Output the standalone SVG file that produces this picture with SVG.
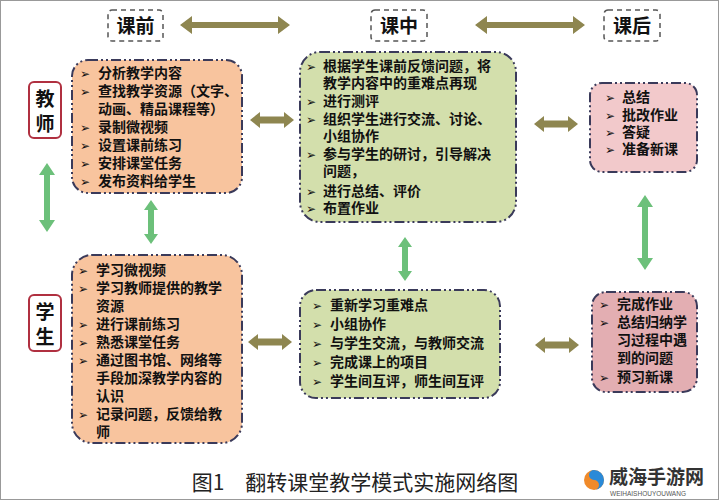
<svg xmlns="http://www.w3.org/2000/svg" width="719" height="500" viewBox="0 0 719 500">
<style>
.t{font-family:"Noto Sans CJK SC","Liberation Sans",sans-serif;font-weight:bold;font-size:14px;fill:#111}
.b{font-family:"DejaVu Sans",sans-serif;font-size:12px;fill:#111}
.box{stroke:#3a3a5a;stroke-width:2;stroke-dasharray:10 3 2 3 2 3}
.hd{fill:#fff;stroke:#555;stroke-width:1.5;stroke-dasharray:5 4}
.hdt{font-family:"Noto Sans CJK SC",sans-serif;font-weight:bold;font-size:19px;fill:#111}
.role{fill:#fff;stroke:#b03040;stroke-width:2}
.rt{font-family:"Noto Sans CJK SC",sans-serif;font-weight:bold;font-size:19px;fill:#111}
.ol{fill:#8e8650}
.gr{fill:#6cc07a}
</style>
<defs>
<polygon id="ha" points="-22,0 -12,-8 -12,-3.5 12,-3.5 12,-8 22,0 12,8 12,3.5 -12,3.5 -12,8" class="ol"/>
<polygon id="va" points="0,-22 7,-12 3,-12 3,12 7,12 0,22 -7,12 -3,12 -3,-12 -7,-12" class="gr"/>
</defs>
<rect x="0.5" y="0.5" width="718" height="499" fill="#fff" stroke="#999"/>
<g id="headers">
<g id="h-pre"><rect class="hd" x="108" y="10" width="55" height="31" rx="4"/><text class="hdt" x="135.5" y="33" text-anchor="middle">课前</text></g>
<g id="h-in"><rect class="hd" x="371" y="10" width="56" height="31" rx="4"/><text class="hdt" x="399" y="33" text-anchor="middle">课中</text></g>
<g id="h-post"><rect class="hd" x="604" y="10" width="56" height="31" rx="4"/><text class="hdt" x="632" y="33" text-anchor="middle">课后</text></g>
</g>
<g id="role-teacher"><rect class="role" x="29" y="82" width="32" height="56" rx="5"/><text class="rt" x="45" y="106" text-anchor="middle">教</text><text class="rt" x="45" y="131" text-anchor="middle">师</text></g>
<g id="role-student"><rect class="role" x="29" y="295" width="32" height="56" rx="5"/><text class="rt" x="45" y="319" text-anchor="middle">学</text><text class="rt" x="45" y="344" text-anchor="middle">生</text></g>

<g id="t-pre">
<rect class="box" x="72" y="60" width="170" height="133" rx="16" fill="#f8c49e"/>
<g class="b"><text x="80" y="78">➢</text><text x="80" y="96">➢</text><text x="80" y="132">➢</text><text x="80" y="150">➢</text><text x="80" y="168">➢</text><text x="80" y="186">➢</text></g>
<g class="t"><text x="98" y="78">分析教学内容</text><text x="98" y="96">查找教学资源（文字、</text><text x="98" y="114">动画、精品课程等）</text><text x="98" y="132">录制微视频</text><text x="98" y="150">设置课前练习</text><text x="98" y="168">安排课堂任务</text><text x="98" y="186">发布资料给学生</text></g>
</g>
<g id="t-in">
<rect class="box" x="300" y="52" width="216" height="170" rx="20" fill="#d3dfac"/>
<g class="b"><text x="306" y="71">➢</text><text x="306" y="106">➢</text><text x="306" y="124">➢</text><text x="306" y="159">➢</text><text x="306" y="196">➢</text><text x="306" y="213">➢</text></g>
<g class="t"><text x="323" y="71">根据学生课前反馈问题，将</text><text x="323" y="88">教学内容中的重难点再现</text><text x="323" y="106">进行测评</text><text x="323" y="124">组织学生进行交流、讨论、</text><text x="323" y="141">小组协作</text><text x="323" y="159">参与学生的研讨，引导解决</text><text x="323" y="176">问题，</text><text x="323" y="196">进行总结、评价</text><text x="323" y="213">布置作业</text></g>
</g>
<g id="t-post">
<rect class="box" x="590" y="83" width="107" height="89" rx="12" fill="#f2c9cb"/>
<g class="b"><text x="605" y="102">➢</text><text x="605" y="120">➢</text><text x="605" y="137">➢</text><text x="605" y="154">➢</text></g>
<g class="t"><text x="622" y="102">总结</text><text x="622" y="120">批改作业</text><text x="622" y="137">答疑</text><text x="622" y="154">准备新课</text></g>
</g>
<g id="s-pre">
<rect class="box" x="72" y="255" width="170" height="188" rx="20" fill="#f8c49e"/>
<g class="b"><text x="78" y="275">➢</text><text x="78" y="293">➢</text><text x="78" y="329">➢</text><text x="78" y="347">➢</text><text x="78" y="365">➢</text><text x="78" y="419">➢</text></g>
<g class="t"><text x="96" y="275">学习微视频</text><text x="96" y="293">学习教师提供的教学</text><text x="96" y="311">资源</text><text x="96" y="329">进行课前练习</text><text x="96" y="347">熟悉课堂任务</text><text x="96" y="365">通过图书馆、网络等</text><text x="96" y="383">手段加深教学内容的</text><text x="96" y="401">认识</text><text x="96" y="419">记录问题，反馈给教</text><text x="96" y="437">师</text></g>
</g>
<g id="s-in">
<rect class="box" x="300" y="290" width="200" height="108" rx="16" fill="#d3dfac"/>
<g class="b"><text x="312" y="310">➢</text><text x="312" y="329">➢</text><text x="312" y="348">➢</text><text x="312" y="367">➢</text><text x="312" y="386">➢</text></g>
<g class="t"><text x="330" y="310">重新学习重难点</text><text x="330" y="329">小组协作</text><text x="330" y="348">与学生交流，与教师交流</text><text x="330" y="367">完成课上的项目</text><text x="330" y="386">学生间互评，师生间互评</text></g>
</g>
<g id="s-post">
<rect class="box" x="592" y="292" width="105" height="100" rx="14" fill="#e3aeb2"/>
<g class="b"><text x="599" y="309">➢</text><text x="599" y="327">➢</text><text x="599" y="382">➢</text></g>
<g class="t"><text x="617" y="309">完成作业</text><text x="617" y="327">总结归纳学</text><text x="617" y="345">习过程中遇</text><text x="617" y="363">到的问题</text><text x="617" y="382">预习新课</text></g>
</g>

<g id="connectors">
<polygon class="ol" points="180,25 192,16 192,22 278,22 278,16 290,25 278,34 278,28 192,28 192,34"/>
<polygon class="ol" points="475,25 487,16 487,22 573,22 573,16 585,25 573,34 573,28 487,28 487,34"/>
<use href="#ha" x="272" y="120"/>
<use href="#ha" x="556" y="124"/>
<use href="#ha" x="270" y="342"/>
<use href="#ha" x="557" y="345"/>
<polygon class="gr" points="47,163 55,175 50,175 50,220 55,220 47,232 39,220 44,220 44,175 39,175"/>
<use href="#va" x="151" y="222"/>
<use href="#va" x="405" y="259"/>
<polygon class="gr" points="645,195 653,207 648,207 648,258 653,258 645,270 637,258 642,258 642,207 637,207"/>
</g>
<text x="355" y="490" text-anchor="middle" font-family="Noto Sans CJK SC,sans-serif" font-size="21" fill="#222">图1　翻转课堂教学模式实施网络图</text>
<g id="watermark">
<circle cx="594" cy="480" r="10" fill="#f08a2a"/><path d="M594,470 a10,10 0 0,1 0,20 a5,5 0 0,0 0,-10 a5,5 0 0,1 0,-10z" fill="#2a8ad8"/>
<text x="609" y="484" font-family="Noto Sans CJK SC,sans-serif" font-weight="bold" font-size="19" fill="#333">威海手游网</text>
<text x="610" y="496" font-family="Liberation Sans,sans-serif" font-size="6.5" fill="#555">WEIHAISHOUYOUWANG</text>
</g>
</svg>
